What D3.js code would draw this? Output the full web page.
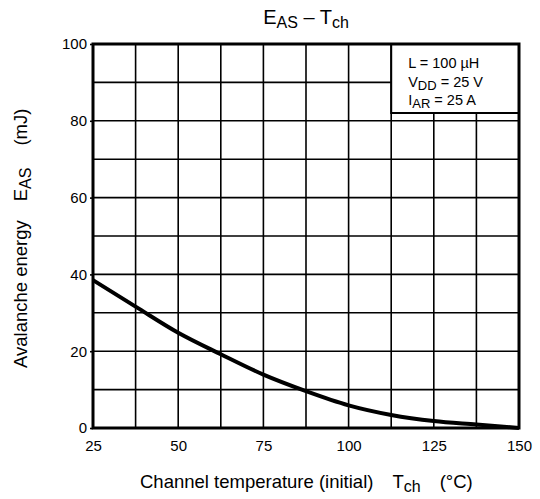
<!DOCTYPE html>
<html>
<head>
<meta charset="utf-8">
<script src="https://cdn.jsdelivr.net/npm/d3@7"></script>
<style>
  body { margin: 0; background: #fff; }
  text { font-family: "Liberation Sans", Arial, sans-serif; fill: #000; }
</style>
</head>
<body>
<div id="chart-area"></div>
<script>
// channel temperature (°C) and avalanche energy (mJ)
var temps = [25, 37.5, 50, 62.5, 75, 87.5, 100, 112.5, 125, 137.5, 150];
var energy = [38.5, 31.6, 24.8, 19.2, 13.9, 9.6, 5.9, 3.4, 1.8, 0.9, 0];

var xTicks = [25, 50, 75, 100, 125, 150];
var yTicks = [0, 20, 40, 60, 80, 100];
var xGrid = [37.5, 50, 62.5, 75, 87.5, 100, 112.5, 125, 137.5];
var yGrid = [10, 20, 30, 40, 50, 60, 70, 80, 90];
var legendLines = [["L = 100 \u00b5H", "", ""], ["V", "DD", " = 25 V"], ["I", "AR", " = 25 A"]];

var margin = {left: 93, right: 21, top: 44, bottom: 71};
var W = 540, H = 499;
var width = W - margin.left - margin.right;
var height = H - margin.top - margin.bottom;

var svg = d3.select("#chart-area").append("svg")
  .attr("width", W)
  .attr("height", H);

var g = svg.append("g")
  .attr("transform", "translate(" + margin.left + "," + margin.top + ")");

var x = d3.scaleLinear().domain([25, 150]).range([0, width]);
var y = d3.scaleLinear().domain([0, 100]).range([height, 0]);

// grid
g.selectAll(".vgrid").data(xGrid).enter().append("line")
  .attr("x1", d => x(d)).attr("x2", d => x(d))
  .attr("y1", 0).attr("y2", height)
  .attr("stroke", "#000").attr("stroke-width", 1.6);

g.selectAll(".hgrid").data(yGrid).enter().append("line")
  .attr("x1", 0).attr("x2", width)
  .attr("y1", d => y(d)).attr("y2", d => y(d))
  .attr("stroke", "#000").attr("stroke-width", 1.6);

// axes (labels only, frame drawn below)
var xAxisCall = d3.axisBottom(x).tickValues(xTicks).tickSize(0).tickPadding(12);
var xAxisGroup = g.append("g")
  .attr("transform", "translate(0," + height + ")")
  .call(xAxisCall);

var yAxisCall = d3.axisLeft(y).tickValues(yTicks).tickSize(3).tickPadding(3);
var yAxisGroup = g.append("g").call(yAxisCall);

[xAxisGroup, yAxisGroup].forEach(ax => {
  ax.select(".domain").remove();
  ax.selectAll("text").attr("font-size", "15px")
    .attr("font-family", "Liberation Sans, Arial, sans-serif");
  ax.selectAll("line").attr("stroke", "#000").attr("stroke-width", 1.6);
});

// legend box
var lg = g.append("g").attr("transform", "translate(" + x(112.5) + ",0)");
lg.append("rect")
  .attr("x", 0).attr("y", 0)
  .attr("width", width - x(112.5)).attr("height", 69)
  .attr("fill", "#fff").attr("stroke", "#000").attr("stroke-width", 2);

legendLines.forEach((l, i) => {
  var t = lg.append("text")
    .attr("x", 17).attr("y", 24 + i * 18.7)
    .attr("font-size", "14.5px");
  t.append("tspan").text(l[0]);
  if (l[1]) {
    t.append("tspan").attr("dy", 3).attr("font-size", "13px").text(l[1]);
    t.append("tspan").attr("dy", -3).text(l[2]);
  }
});

// curve
var line = d3.line()
  .x((d, i) => x(temps[i]))
  .y(d => y(d))
  .curve(d3.curveMonotoneX);

g.append("path")
  .datum(energy)
  .attr("d", line)
  .attr("fill", "none")
  .attr("stroke", "#000")
  .attr("stroke-width", 4);

// frame
g.append("rect")
  .attr("width", width).attr("height", height)
  .attr("fill", "none").attr("stroke", "#000").attr("stroke-width", 3);

// title
var title = svg.append("text")
  .attr("x", margin.left + width / 2).attr("y", 24)
  .attr("text-anchor", "middle")
  .attr("font-size", "20px");
title.append("tspan").text("E");
title.append("tspan").attr("dy", 4).attr("font-size", "16px").text("AS");
title.append("tspan").attr("dy", -4).text(" \u2013 T");
title.append("tspan").attr("dy", 4).attr("font-size", "16px").text("ch");

// x label
var xl = svg.append("text")
  .attr("x", 140).attr("y", 488)
  .attr("font-size", "18.5px");
xl.append("tspan").text("Channel temperature (initial)");
xl.append("tspan").attr("dx", 19).text("T");
xl.append("tspan").attr("dy", 4).attr("font-size", "16px").text("ch");
xl.append("tspan").attr("dy", -4).attr("dx", 19).text("(\u00b0C)");

// y label
var yl = svg.append("text")
  .attr("transform", "translate(27,368) rotate(-90)")
  .attr("font-size", "18.5px");
yl.append("tspan").text("Avalanche energy");
yl.append("tspan").attr("dx", 19).text("E");
yl.append("tspan").attr("dy", 4).attr("font-size", "16px").text("AS");
yl.append("tspan").attr("dy", -4).attr("dx", 22).text("(mJ)");
</script>
</body>
</html>
